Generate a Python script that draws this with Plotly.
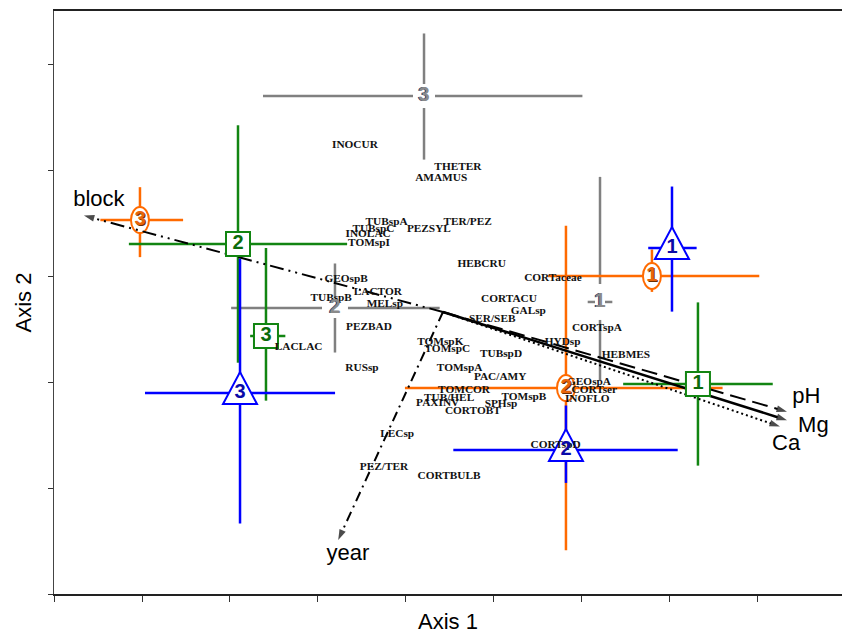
import plotly.graph_objects as go

# ---------------- data (Axis 1 / Axis 2 ordination scores) ----------------
# group centroids with asymmetric error extents, one set per factor colour
orange_lab = ["3", "1", "2"]
orange_x = [0.977, 6.795, 5.818]
orange_y = [3.528, 3.000, 1.943]
orange_xm = [0.45, 1.18, 1.83]
orange_xp = [0.49, 1.22, 1.78]
orange_ym = [0.35, 0.15, 1.53]
orange_yp = [0.31, 0.25, 1.53]

green_lab = ["2", "3", "1"]
green_x = [2.091, 2.409, 7.318]
green_y = [3.302, 2.434, 1.981]
green_xm = [1.24, 0.18, 0.85]
green_xp = [1.24, 0.22, 0.85]
green_ym = [1.12, 0.61, 0.77]
green_yp = [1.12, 0.83, 0.77]

blue_lab = ["1", "3", "2"]
blue_x = [7.023, 2.114, 5.818]
blue_y = [3.264, 1.896, 1.358]
blue_xm = [0.27, 1.08, 1.28]
blue_xp = [0.28, 1.08, 1.27]
blue_ym = [0.60, 1.23, 0.31]
blue_yp = [0.58, 1.27, 0.42]

gray_lab = ["3", "1", "2"]
gray_x = [4.205, 6.205, 3.193]
gray_y = [4.698, 2.755, 2.698]
gray_xm = [1.83, 0.14, 1.18]
gray_xp = [1.80, 0.14, 1.19]
gray_ym = [0.60, 0.74, 0.42]
gray_yp = [0.59, 1.18, 0.42]

# species scores
species = ["INOCUR", "THETER", "AMAMUS", "TUBspA", "TUBspC", "PEZSYL", "TER/PEZ",
           "INOLAC", "TOMspI", "HEBCRU", "CORTaceae", "GEOspB", "LACTOR", "TUBspB",
           "MELsp", "CORTACU", "GALsp", "SER/SEB", "CORTspA", "PEZBAD", "LACLAC",
           "TOMspK", "TOMspC", "HYDsp", "HEBMES", "TUBspD", "RUSsp", "TOMspA",
           "PAC/AMY", "GEOspA", "TOMCOR", "CORTser", "TUB/HEL", "TOMspB", "INOFLO",
           "PAXINV", "SPHsp", "CORTOBT", "LECsp", "CORTspD", "PEZ/TER", "CORTBULB"]
species_x = [3.42, 4.59, 4.40, 3.78, 3.63, 4.26, 4.70,
             3.57, 3.58, 4.86, 5.67, 3.32, 3.68, 3.15,
             3.76, 5.17, 5.39, 4.98, 6.17, 3.58, 2.78,
             4.39, 4.47, 5.78, 6.50, 5.08, 3.50, 4.61,
             5.07, 6.08, 4.66, 6.14, 4.49, 5.34, 6.06,
             4.36, 5.08, 4.76, 3.90, 5.70, 3.75, 4.49]
species_y = [4.23, 4.03, 3.92, 3.51, 3.44, 3.44, 3.51,
             3.39, 3.31, 3.11, 2.98, 2.97, 2.85, 2.79,
             2.73, 2.78, 2.67, 2.59, 2.51, 2.52, 2.33,
             2.38, 2.31, 2.38, 2.25, 2.26, 2.13, 2.13,
             2.05, 2.00, 1.92, 1.92, 1.85, 1.86, 1.84,
             1.80, 1.79, 1.72, 1.51, 1.40, 1.20, 1.11]

# environmental vectors
vec_names = ["block", "year", "pH", "Mg", "Ca"]
vec_origin_x = 4.42
vec_origin_y = 2.66
vec_tip_x = [0.34, 3.23, 8.33, 8.33, 8.25]
vec_tip_y = [3.57, 0.51, 1.72, 1.64, 1.58]
vec_label_x = [0.51, 3.34, 8.55, 8.63, 8.32]
vec_label_y = [3.71, 0.37, 1.85, 1.58, 1.41]

# ---------------- styles ----------------
ORANGE = "#FF6A00"
GREEN = "#128512"
BLUE = "#0000FF"
GRAY = "#808080"
vec_dash = ["14px,5px,2px,5px,2px,5px", "10px,5px,2px,5px", "16px,7px", "solid", "2px,3px"]
vec_width = [2, 2, 2, 2.5, 2]
gray_gap = [(11, 12), (5, 18), (13, 10)]

fig = go.Figure()
shapes = []


def add_bars(xs, ys, xm, xp, ym, yp, color):
    for x, y, a, b, c, d in zip(xs, ys, xm, xp, ym, yp):
        shapes.append(dict(type="line", xref="x", yref="y", x0=x - a, x1=x + b, y0=y, y1=y,
                           line=dict(color=color, width=2.5), layer="below"))
        shapes.append(dict(type="line", xref="x", yref="y", x0=x, x1=x, y0=y - c, y1=y + d,
                           line=dict(color=color, width=2.5), layer="below"))


add_bars(gray_x, gray_y, gray_xm, gray_xp, gray_ym, gray_yp, GRAY)
add_bars(orange_x, orange_y, orange_xm, orange_xp, orange_ym, orange_yp, ORANGE)
add_bars(green_x, green_y, green_xm, green_xp, green_ym, green_yp, GREEN)
add_bars(blue_x, blue_y, blue_xm, blue_xp, blue_ym, blue_yp, BLUE)

# gray labels sit in a gap of the bars
for x, y, (gw, gh) in zip(gray_x, gray_y, gray_gap):
    shapes.append(dict(type="rect", xref="x", yref="y", xsizemode="pixel", ysizemode="pixel",
                       xanchor=x, yanchor=y, x0=-gw, x1=gw, y0=-gh, y1=gh,
                       line=dict(width=0), fillcolor="white", layer="below"))
# orange ellipses
for x, y in zip(orange_x, orange_y):
    shapes.append(dict(type="circle", xref="x", yref="y", xsizemode="pixel", ysizemode="pixel",
                       xanchor=x, yanchor=y, x0=-9, x1=9, y0=-13, y1=13,
                       line=dict(color=ORANGE, width=2), fillcolor="white", layer="below"))
# blue triangles
for x, y in zip(blue_x, blue_y):
    shapes.append(dict(type="path", xref="x", yref="y", xsizemode="pixel", ysizemode="pixel",
                       xanchor=x, yanchor=y, path="M -17,-11 L 17,-11 L 0,21 Z",
                       line=dict(color=BLUE, width=2), fillcolor="white", layer="below"))

# vectors
for i, name in enumerate(vec_names):
    fig.add_trace(go.Scatter(
        x=[vec_origin_x, vec_tip_x[i]], y=[vec_origin_y, vec_tip_y[i]],
        mode="lines+markers",
        line=dict(color="black", width=vec_width[i], dash=vec_dash[i]),
        marker=dict(symbol=["circle", "arrow"], size=[0, 11], color="black",
                    angleref="previous", line=dict(width=0)),
        hoverinfo="skip", showlegend=False))

# green squares (above the vectors)
fig.add_trace(go.Scatter(
    x=green_x, y=green_y, mode="markers",
    marker=dict(symbol="square", size=24, color="white", line=dict(color=GREEN, width=2)),
    hoverinfo="skip", showlegend=False))

# species labels
fig.add_trace(go.Scatter(
    x=species_x, y=species_y, text=species, mode="text", textposition="middle center",
    textfont=dict(family="Liberation Serif", size=11.3, color="#111111", weight="bold"),
    hoverinfo="text", showlegend=False))

# group digits
digit_sets = [
    (gray_x, gray_y, gray_lab, "#8A8A8A", "-1px 0px 0px #2E3A66"),
    (orange_x, orange_y, orange_lab, "#E8650A", "1px 1px 0px #6B2E00"),
    (green_x, green_y, green_lab, "#0B6B0B", "none"),
    (blue_x, blue_y, blue_lab, "#0A0AA8", "none"),
]
for xs, ys, labs, col, shd in digit_sets:
    fig.add_trace(go.Scatter(
        x=xs, y=ys, text=labs, mode="text", textposition="middle center",
        textfont=dict(family="Liberation Sans", size=20, color=col, weight="bold", shadow=shd),
        hoverinfo="skip", showlegend=False))

# vector labels
fig.add_trace(go.Scatter(
    x=vec_label_x, y=vec_label_y, text=vec_names, mode="text", textposition="middle center",
    textfont=dict(family="Liberation Sans", size=22, color="black"),
    hoverinfo="skip", showlegend=False))

fig.update_layout(
    width=842, height=634,
    margin=dict(l=54, r=0, t=11, b=40, autoexpand=False),
    paper_bgcolor="white", plot_bgcolor="white",
    shapes=shapes,
    showlegend=False,
    xaxis=dict(range=[0, 8.955], tick0=0, dtick=1, showticklabels=False,
               ticks="outside", ticklen=6, tickcolor="#333", tickwidth=1,
               showgrid=False, zeroline=False, showline=True, linecolor="#222",
               linewidth=2, mirror=True,
               title=dict(text="Axis 1", standoff=14,
                          font=dict(family="Liberation Sans", size=22, color="black"))),
    yaxis=dict(range=[0, 5.5], tick0=0, dtick=1, showticklabels=False,
               ticks="outside", ticklen=5, tickcolor="#333", tickwidth=1,
               showgrid=False, zeroline=False, showline=True, linecolor="#444",
               linewidth=1, mirror=False,
               title=dict(text="Axis 2", standoff=10,
                          font=dict(family="Liberation Sans", size=22, color="black"))),
)

fig.write_html(
    "out.html",
    config={"displayModeBar": False},
    post_script="document.body.style.margin='0';document.body.style.overflow='hidden';",
)
